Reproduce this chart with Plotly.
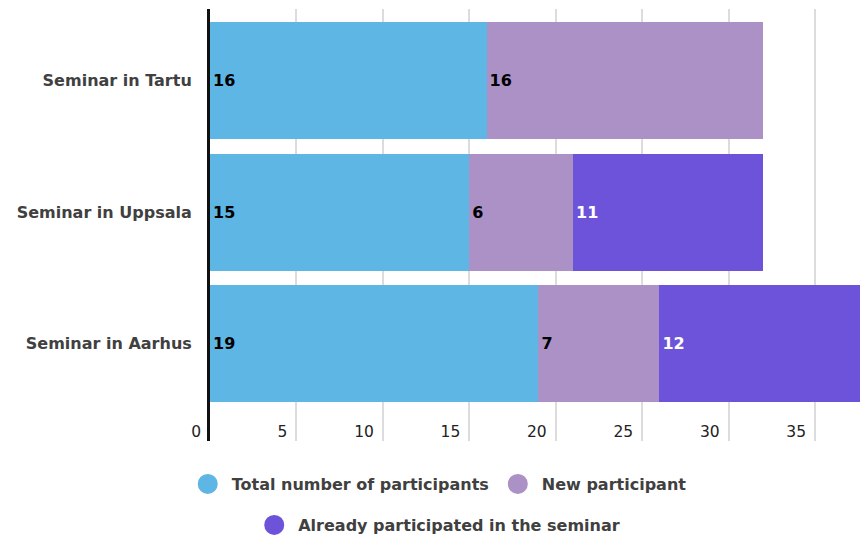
import plotly.graph_objects as go

categories = ["Seminar in Aarhus", "Seminar in Uppsala", "Seminar in Tartu"]
total_participants = [19, 15, 16]
new_participants = [7, 6, 16]
already_participated = [12, 11, None]
series_names = ["Total number of participants", "New participant", "Already participated in the seminar"]
x_ticks = [0, 5, 10, 15, 20, 25, 30, 35]

colors = ["#5EB6E4", "#AB91C6", "#6C53D9"]
text_colors = ["#000000", "#000000", "#FFFFFF"]
series_values = [total_participants, new_participants, already_participated]

FONT = "DejaVu Sans"
fig = go.Figure()
for name, vals, col, tcol in zip(series_names, series_values, colors, text_colors):
    fig.add_trace(go.Bar(
        y=categories, x=vals, orientation="h", name=name,
        marker=dict(color=col, line=dict(width=0)),
        text=[("" if v is None else str(v)) for v in vals],
        textposition="inside", insidetextanchor="start",
        textfont=dict(family=FONT, size=16, color=tcol, weight="bold"),
        constraintext="none",
        showlegend=False, hoverinfo="skip",
    ))

# legend entries (circles)
for i, (name, col) in enumerate(zip(series_names, colors)):
    fig.add_trace(go.Scatter(
        x=[None], y=[None], mode="markers", name=name,
        marker=dict(symbol="circle", size=16, color=col, line=dict(color=col, width=4)),
        legend="legend" if i < 2 else "legend2",
    ))

label_font = dict(family=FONT, size=16, color="#404040", weight="bold")

fig.update_layout(
    width=860, height=537,
    margin=dict(l=210, r=0, t=9, b=96),
    paper_bgcolor="white", plot_bgcolor="white",
    barmode="stack", bargap=0.11,
    font=dict(family=FONT, size=15, color="#333333"),
    xaxis=dict(
        range=[0, 37.6], tickvals=x_ticks, ticktext=[str(t) for t in x_ticks],
        showgrid=True, gridcolor="#dcdcdc", gridwidth=1.5,
        zeroline=False, showline=False, ticks="",
        ticklabelposition="outside left", ticklabelstandoff=-21, ticklabelshift=-9,
        tickfont=dict(family=FONT, size=15.5, color="#222222"),
        fixedrange=True,
    ),
    yaxis=dict(
        range=[-0.741, 2.544], showgrid=False, zeroline=False,
        showline=True, linecolor="#111111", linewidth=3,
        ticks="", ticklabelstandoff=12,
        tickfont=label_font,
        fixedrange=True,
    ),
    legend=dict(
        orientation="h", xref="container", yref="container", traceorder="normal",
        x=0.509, xanchor="center", y=1 - 484 / 537, yanchor="middle",
        font=label_font, bgcolor="rgba(0,0,0,0)", itemwidth=38,
    ),
    legend2=dict(
        orientation="h", xref="container", yref="container", traceorder="normal",
        x=0.509, xanchor="center", y=1 - 525 / 537, yanchor="middle",
        font=label_font, bgcolor="rgba(0,0,0,0)", itemwidth=38,
    ),
)

fig.write_html("out.html")
